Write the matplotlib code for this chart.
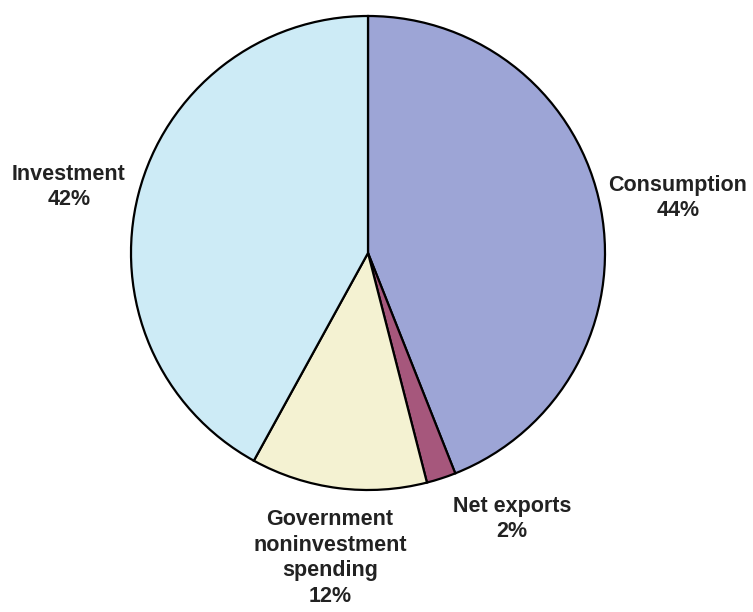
import matplotlib.pyplot as plt

# GDP shares, clockwise from 12 o'clock
labels = ['Consumption', 'Net exports', 'Government\nnoninvestment\nspending', 'Investment']
shares = [44, 2, 12, 42]
colors = ['#9da5d6', '#a6577c', '#f4f2d2', '#cdebf6']

# label anchor points (pixels, y measured from the top)
label_pos = [(678, 198), (512, 519), (330, 558), (69, 187)]

W, H = 753, 612
fig = plt.figure(figsize=(W / 100, H / 100), dpi=100)
ax = fig.add_axes([0, 0, 1, 1])

ax.pie(shares, colors=colors, startangle=90, counterclock=False,
       center=(368, H - 253), radius=237,
       wedgeprops=dict(edgecolor='black', linewidth=1.6))

for name, val, (x, y) in zip(labels, shares, label_pos):
    ax.text(x, H - y, f'{name}\n{val}%', ha='center', va='center',
            fontsize=15.5, fontweight='bold', family='Liberation Sans',
            color='#222222', linespacing=1.3)

ax.set_xlim(0, W)
ax.set_ylim(0, H)
ax.set_aspect('equal')
ax.axis('off')

fig.savefig('out.png', dpi=100)
